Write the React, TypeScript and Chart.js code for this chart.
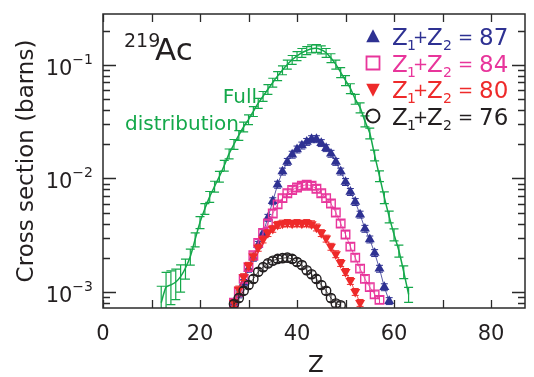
import React, { useEffect, useRef } from 'react';
import { Chart, registerables } from 'chart.js';
Chart.register(...registerables);

const X_MIN = 0;
const X_MAX = 87;
const Y_MIN = 7.2e-4;
const Y_MAX = 0.281;
const X_TICKS = [0, 20, 40, 60, 80];
const X_TICK_LABELS = ['0', '20', '40', '60', '80'];
const X_MINOR = [10, 30, 50, 70];
const Y_DECADES = [1e-3, 1e-2, 1e-1];
const Y_EXP = ['−3', '−2', '−1'];

const Z_FULL = [12, 13, 14, 15, 16, 17, 18, 19, 20, 21, 22, 23, 24, 25, 26, 27, 28, 29, 30, 31, 32, 33, 34, 35, 36, 37, 38, 39, 40, 41, 42, 43, 44, 45, 46, 47, 48, 49, 50, 51, 52, 53, 54, 55, 56, 57, 58, 59, 60, 61, 62, 63];
const SIG_FULL = [8.0e-4, 1.1e-3, 1.15e-3, 1.22e-3, 1.36e-3, 1.62e-3, 2.05e-3, 2.9e-3, 4.1e-3, 5.4e-3, 6.9e-3, 8.5e-3, 1.04e-2, 1.3e-2, 1.65e-2, 2.0e-2, 2.4e-2, 2.85e-2, 3.3e-2, 3.9e-2, 4.6e-2, 5.3e-2, 6.1e-2, 7.0e-2, 8.0e-2, 9.0e-2, 0.101, 0.111, 0.12, 0.128, 0.134, 0.139, 0.14, 0.136, 0.128, 0.115, 0.101, 0.086, 0.073, 0.062, 0.05, 0.042, 0.032, 0.025, 0.016, 0.0105, 0.0068, 0.0046, 0.0032, 0.0023, 0.0015, 0.00095];
const ERR_FULL = [0.4, 0.35, 0.33, 0.3, 0.27, 0.2, 0.16, 0.14, 0.12, 0.11, 0.11, 0.11, 0.11, 0.11, 0.1, 0.1, 0.1, 0.1, 0.1, 0.1, 0.1, 0.1, 0.1, 0.09, 0.09, 0.09, 0.09, 0.09, 0.09, 0.09, 0.08, 0.08, 0.08, 0.08, 0.09, 0.09, 0.09, 0.1, 0.1, 0.1, 0.1, 0.1, 0.11, 0.11, 0.11, 0.11, 0.12, 0.12, 0.12, 0.12, 0.13, 0.15];

const Z_87 = [27, 28, 29, 30, 31, 32, 33, 34, 35, 36, 37, 38, 39, 40, 41, 42, 43, 44, 45, 46, 47, 48, 49, 50, 51, 52, 53, 54, 55, 56, 57, 58, 59];
const SIG_87 = [8.0e-4, 9.5e-4, 1.2e-3, 1.6e-3, 2.0e-3, 2.6e-3, 3.3e-3, 4.5e-3, 6.3e-3, 8.8e-3, 1.15e-2, 1.4e-2, 1.62e-2, 1.8e-2, 1.95e-2, 2.1e-2, 2.22e-2, 2.22e-2, 2.05e-2, 1.85e-2, 1.65e-2, 1.4e-2, 1.15e-2, 9.3e-3, 7.6e-3, 6.2e-3, 4.8e-3, 3.6e-3, 2.9e-3, 2.2e-3, 1.6e-3, 1.1e-3, 8.3e-4];

const Z_84 = [27, 28, 29, 30, 31, 32, 33, 34, 35, 36, 37, 38, 39, 40, 41, 42, 43, 44, 45, 46, 47, 48, 49, 50, 51, 52, 53, 54, 55, 56, 57];
const SIG_84 = [8.0e-4, 1.0e-3, 1.3e-3, 1.65e-3, 2.1e-3, 2.7e-3, 3.3e-3, 4.0e-3, 4.9e-3, 5.9e-3, 6.7e-3, 7.4e-3, 7.9e-3, 8.3e-3, 8.6e-3, 8.8e-3, 8.6e-3, 8.1e-3, 7.4e-3, 6.7e-3, 6.0e-3, 5.0e-3, 4.0e-3, 3.2e-3, 2.5e-3, 2.0e-3, 1.6e-3, 1.3e-3, 1.1e-3, 9.5e-4, 8.5e-4];

const Z_80 = [27, 28, 29, 30, 31, 32, 33, 34, 35, 36, 37, 38, 39, 40, 41, 42, 43, 44, 45, 46, 47, 48, 49, 50, 51, 52, 53];
const SIG_80 = [8.0e-4, 1.05e-3, 1.35e-3, 1.7e-3, 2.05e-3, 2.45e-3, 2.9e-3, 3.3e-3, 3.6e-3, 3.9e-3, 4.0e-3, 4.05e-3, 4.0e-3, 4.05e-3, 4.0e-3, 4.05e-3, 3.95e-3, 3.7e-3, 3.3e-3, 2.95e-3, 2.5e-3, 2.15e-3, 1.8e-3, 1.5e-3, 1.25e-3, 1.0e-3, 8.0e-4];

const Z_76 = [27, 28, 29, 30, 31, 32, 33, 34, 35, 36, 37, 38, 39, 40, 41, 42, 43, 44, 45, 46, 47, 48, 49];
const SIG_76 = [7.8e-4, 8.8e-4, 1.02e-3, 1.15e-3, 1.3e-3, 1.5e-3, 1.65e-3, 1.78e-3, 1.88e-3, 1.95e-3, 1.98e-3, 2.0e-3, 1.95e-3, 1.83e-3, 1.72e-3, 1.55e-3, 1.43e-3, 1.3e-3, 1.15e-3, 1.02e-3, 8.8e-4, 7.9e-4, 7.6e-4];

const REL_ERR_SETS = 0.07;

const LEGEND_SUMS = ['87', '84', '80', '76'];

const GREEN = '#14a84a';
const BLUE = '#2e3192';
const PINK = '#e8359b';
const RED = '#ee2a2a';
const BLACK = '#231f20';
const LEGEND_COLORS = [BLUE, PINK, RED, BLACK];
const TEXT = '#231f20';
const FONT = '"DejaVu Sans"';

function pts(xs: number[], ys: number[]) {
  return xs.map((x, i) => ({ x, y: ys[i] }));
}

function marker(ctx: CanvasRenderingContext2D, kind: number, x: number, y: number, s: number, color: string) {
  ctx.save();
  ctx.fillStyle = color;
  ctx.strokeStyle = color;
  ctx.beginPath();
  if (kind === 0) {
    ctx.moveTo(x, y - s * 0.55);
    ctx.lineTo(x + s * 0.52, y + s * 0.45);
    ctx.lineTo(x - s * 0.52, y + s * 0.45);
    ctx.closePath();
    ctx.fill();
  } else if (kind === 1) {
    ctx.lineWidth = 1.8;
    ctx.rect(x - s / 2, y - s / 2, s, s);
    ctx.stroke();
  } else if (kind === 2) {
    ctx.moveTo(x, y + s * 0.55);
    ctx.lineTo(x + s * 0.52, y - s * 0.45);
    ctx.lineTo(x - s * 0.52, y - s * 0.45);
    ctx.closePath();
    ctx.fill();
  } else {
    ctx.lineWidth = 2;
    ctx.arc(x, y, s / 2, 0, Math.PI * 2);
    ctx.stroke();
  }
  ctx.restore();
}

const errorBars = {
  id: 'errorBars',
  beforeDatasetDraw(chart: any, args: any) {
    const ds = chart.data.datasets[args.index];
    if (!ds.errs) return;
    const { ctx, chartArea: a } = chart;
    const xs = chart.scales.x;
    const ys = chart.scales.y;
    ctx.save();
    ctx.beginPath();
    ctx.rect(a.left, a.top, a.right - a.left, a.bottom - a.top);
    ctx.clip();
    ctx.strokeStyle = ds.errColor;
    ctx.lineWidth = ds.errWidth;
    const cap = ds.capHalf;
    ds.data.forEach((p: any, i: number) => {
      const e = Array.isArray(ds.errs) ? ds.errs[i] : ds.errs;
      const px = xs.getPixelForValue(p.x);
      const hi = ys.getPixelForValue(p.y * (1 + e));
      const lo = ys.getPixelForValue(Math.max(p.y * (1 - e), 1e-6));
      ctx.beginPath();
      ctx.moveTo(px, hi);
      ctx.lineTo(px, lo);
      ctx.moveTo(px - cap, hi);
      ctx.lineTo(px + cap, hi);
      ctx.moveTo(px - cap, lo);
      ctx.lineTo(px + cap, lo);
      ctx.stroke();
    });
    ctx.restore();
  },
};

const decor = {
  id: 'decor',
  afterDraw(chart: any) {
    const { ctx, chartArea: a } = chart;
    const xs = chart.scales.x;
    const ys = chart.scales.y;
    ctx.save();
    ctx.strokeStyle = '#2a2a2a';
    ctx.lineWidth = 1.5;
    ctx.strokeRect(a.left, a.top, a.right - a.left, a.bottom - a.top);
    ctx.lineWidth = 1.3;
    ctx.beginPath();
    [...X_TICKS, ...X_MINOR].forEach((v) => {
      const px = Math.round(xs.getPixelForValue(v)) + 0.5;
      ctx.moveTo(px, a.bottom);
      ctx.lineTo(px, a.bottom - 8);
      ctx.moveTo(px, a.top);
      ctx.lineTo(px, a.top + 8);
    });
    Y_DECADES.concat([1e-4]).forEach((d) => {
      for (let m = 1; m <= 9; m++) {
        const v = d * m;
        if (v < Y_MIN || v > Y_MAX) continue;
        const py = Math.round(ys.getPixelForValue(v)) + 0.5;
        const len = m === 1 ? 13 : 7;
        ctx.moveTo(a.left, py);
        ctx.lineTo(a.left + len, py);
        ctx.moveTo(a.right, py);
        ctx.lineTo(a.right - len, py);
      }
    });
    ctx.stroke();

    ctx.fillStyle = TEXT;
    ctx.textBaseline = 'alphabetic';
    // x tick labels
    ctx.font = `21px ${FONT}`;
    ctx.textAlign = 'center';
    X_TICKS.forEach((v, i) => {
      ctx.fillText(X_TICK_LABELS[i], xs.getPixelForValue(v), 340);
    });
    // y tick labels
    Y_DECADES.forEach((v, i) => {
      const py = ys.getPixelForValue(v);
      ctx.font = `14px ${FONT}`;
      ctx.textAlign = 'right';
      ctx.fillText(Y_EXP[i], 93, py - 1);
      const w = ctx.measureText(Y_EXP[i]).width;
      ctx.font = `21px ${FONT}`;
      ctx.fillText('10', 93 - w, py + 10);
    });
    // axis titles
    ctx.font = `23px ${FONT}`;
    ctx.textAlign = 'center';
    ctx.fillText('Z', (a.left + a.right) / 2 + 2, 372);
    ctx.save();
    ctx.translate(33, (a.top + a.bottom) / 2);
    ctx.rotate(-Math.PI / 2);
    ctx.font = `23px ${FONT}`;
    ctx.fillText('Cross section (barns)', 0, 0);
    ctx.restore();

    // 219Ac
    ctx.textAlign = 'left';
    ctx.font = `19px ${FONT}`;
    ctx.fillText('219', 124, 47);
    ctx.font = `31px ${FONT}`;
    ctx.fillText('Ac', 155, 60);

    // Full distribution
    ctx.fillStyle = GREEN;
    ctx.font = `20px ${FONT}`;
    ctx.textAlign = 'right';
    ctx.fillText('Full', 257, 103);
    ctx.fillText('distribution', 239, 130);

    // legend
    ctx.textAlign = 'left';
    LEGEND_SUMS.forEach((sum, i) => {
      const base = 45 + i * 26.5;
      const col = LEGEND_COLORS[i];
      marker(ctx, i, 373, base - 8.5, 13, col);
      ctx.fillStyle = col;
      const x0 = 392;
      ctx.font = `23px ${FONT}`;
      ctx.fillText('Z', x0, base);
      ctx.fillText('Z', x0 + 35, base);
      ctx.font = `14px ${FONT}`;
      ctx.fillText('1', x0 + 15, base + 5);
      ctx.fillText('2', x0 + 51, base + 5);
      ctx.font = `18px ${FONT}`;
      ctx.fillText('+', x0 + 21, base - 2);
      ctx.fillText('=', x0 + 66, base - 2);
      ctx.font = `23px ${FONT}`;
      ctx.fillText(sum, x0 + 87, base);
    });
    ctx.restore();
  },
};

export default function App() {
  const ref = useRef<HTMLCanvasElement>(null);
  useEffect(() => {
    document.body.style.margin = '0';
    const chart = new Chart(ref.current as HTMLCanvasElement, {
      type: 'scatter',
      data: {
        datasets: [
          {
            label: 'Z1+Z2 = 76',
            data: pts(Z_76, SIG_76),
            order: 0,
            showLine: true,
            borderColor: BLACK,
            borderWidth: 0.8,
            pointStyle: 'circle',
            pointRadius: 4.6,
            pointBorderWidth: 1.4,
            pointBorderColor: BLACK,
            pointBackgroundColor: 'rgba(0,0,0,0)',
            clip: 0,
            errs: REL_ERR_SETS,
            errColor: BLACK,
            errWidth: 1,
            capHalf: 3.5,
          } as any,
          {
            label: 'Z1+Z2 = 80',
            data: pts(Z_80, SIG_80),
            order: 1,
            showLine: true,
            borderColor: RED,
            borderWidth: 0.8,
            pointStyle: 'triangle',
            rotation: 180,
            pointRadius: 5.8,
            pointBorderWidth: 0,
            pointBackgroundColor: RED,
            clip: 0,
            errs: REL_ERR_SETS,
            errColor: RED,
            errWidth: 1,
            capHalf: 3.5,
          } as any,
          {
            label: 'Z1+Z2 = 84',
            data: pts(Z_84, SIG_84),
            order: 2,
            showLine: true,
            borderColor: PINK,
            borderWidth: 0.8,
            pointStyle: 'rect',
            pointRadius: 6,
            pointBorderWidth: 1.4,
            pointBorderColor: PINK,
            pointBackgroundColor: 'rgba(0,0,0,0)',
            clip: 0,
            errs: REL_ERR_SETS,
            errColor: PINK,
            errWidth: 1,
            capHalf: 3.5,
          } as any,
          {
            label: 'Z1+Z2 = 87',
            data: pts(Z_87, SIG_87),
            order: 3,
            showLine: true,
            borderColor: BLUE,
            borderWidth: 0.8,
            pointStyle: 'triangle',
            pointRadius: 5.8,
            pointBorderWidth: 0,
            pointBackgroundColor: BLUE,
            clip: 0,
            errs: REL_ERR_SETS,
            errColor: BLUE,
            errWidth: 1,
            capHalf: 3.5,
          } as any,
          {
            label: 'Full distribution',
            data: pts(Z_FULL, SIG_FULL),
            order: 4,
            showLine: true,
            borderColor: GREEN,
            borderWidth: 1.5,
            tension: 0.25,
            pointRadius: 0,
            clip: 0,
            errs: ERR_FULL,
            errColor: GREEN,
            errWidth: 1.2,
            capHalf: 4.5,
          } as any,
        ],
      },
      options: {
        animation: false,
        responsive: true,
        maintainAspectRatio: false,
        events: [],
        layout: { padding: { left: 103, right: 9, top: 14, bottom: 69 } },
        plugins: { legend: { display: false }, tooltip: { enabled: false } },
        scales: {
          x: { type: 'linear', min: X_MIN, max: X_MAX, display: false },
          y: { type: 'logarithmic', min: Y_MIN, max: Y_MAX, display: false },
        },
      },
      plugins: [errorBars, decor],
    });
    return () => chart.destroy();
  }, []);
  return (
    <div style={{ width: 534, height: 377, position: 'relative', background: '#fff' }}>
      <canvas ref={ref} />
    </div>
  );
}
